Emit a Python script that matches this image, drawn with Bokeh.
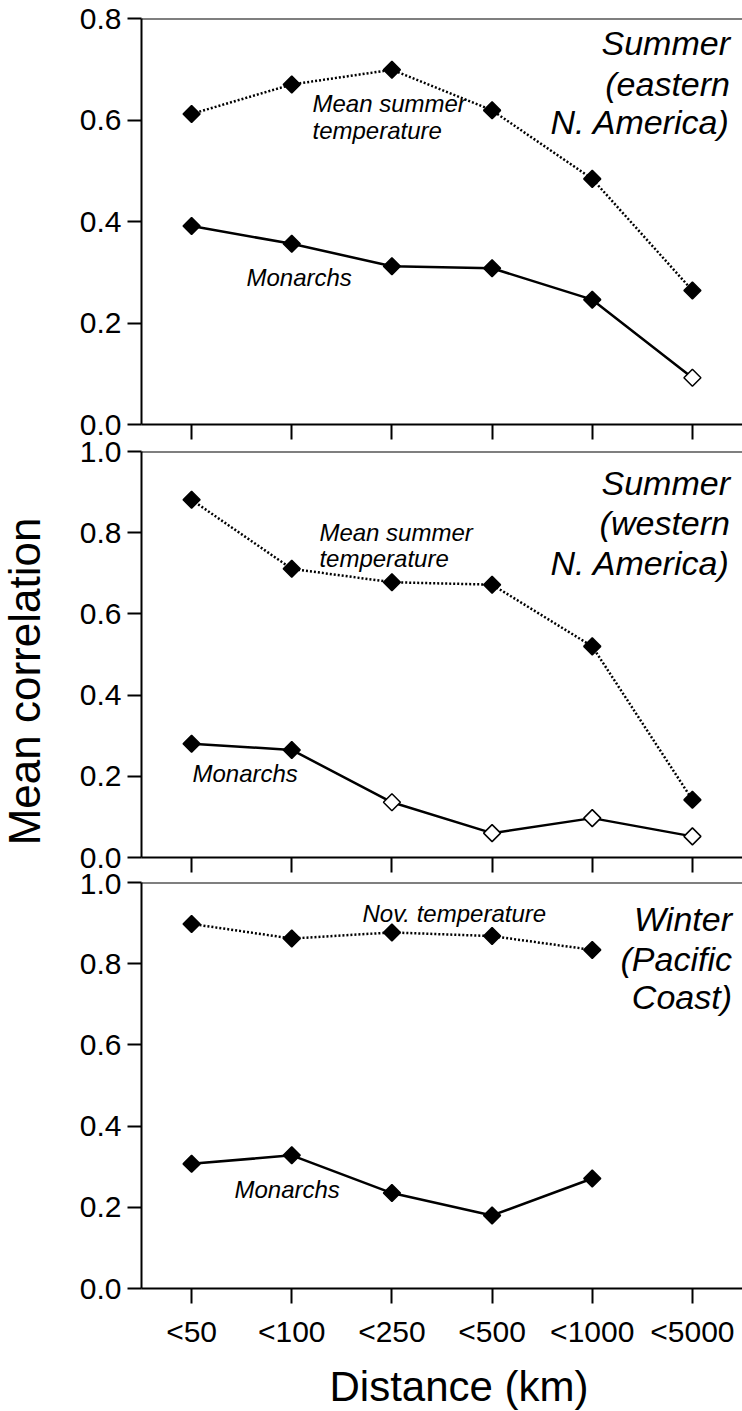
import numpy as np
from bokeh.plotting import figure
from bokeh.models import Range1d, FixedTicker, Label, Span, ColumnDataSource, NumeralTickFormatter
from bokeh.layouts import column, row
from bokeh.embed import file_html
from bokeh.resources import INLINE

# ---------------- data ----------------
categories = ["<50", "<100", "<250", "<500", "<1000", "<5000"]

east_temp = [0.612, 0.670, 0.699, 0.619, 0.484, 0.264]
east_temp_sig = [True, True, True, True, True, True]
east_mon = [0.391, 0.356, 0.312, 0.308, 0.246, 0.092]
east_mon_sig = [True, True, True, True, True, False]

west_temp = [0.881, 0.711, 0.678, 0.672, 0.520, 0.142]
west_temp_sig = [True, True, True, True, True, True]
west_mon = [0.280, 0.265, 0.136, 0.060, 0.097, 0.052]
west_mon_sig = [True, True, False, False, False, False]

winter_temp = [0.898, 0.862, 0.877, 0.868, 0.834]
winter_temp_sig = [True, True, True, True, True]
winter_mon = [0.307, 0.328, 0.235, 0.180, 0.271]
winter_mon_sig = [True, True, True, True, True]

y_ticks_east = [0.0, 0.2, 0.4, 0.6, 0.8]
y_ticks_other = [0.0, 0.2, 0.4, 0.6, 0.8, 1.0]

FONT = "Liberation Sans"
xpos = [i + 0.5 for i in range(len(categories))]
X_END = 6.0
LEFT_STRIP = 50
BORDER_LEFT = 91
FRAME_W = 601


def make_panel(ymax, yticks, border_top, border_bottom, show_xlabels):
    p = figure(frame_width=FRAME_W, frame_height=406,
               x_range=Range1d(0, X_END), y_range=Range1d(0, ymax),
               output_backend="svg", toolbar_location=None,
               min_border_left=BORDER_LEFT, min_border_right=0,
               min_border_top=border_top, min_border_bottom=border_bottom)
    p.outline_line_color = None
    p.xgrid.visible = False
    p.ygrid.visible = False
    p.background_fill_color = "white"
    p.border_fill_color = "white"

    xa = p.xaxis[0]
    xa.ticker = FixedTicker(ticks=xpos)
    xa.axis_line_width = 2
    xa.axis_line_color = "black"
    xa.major_tick_line_width = 2
    xa.major_tick_line_color = "black"
    xa.major_tick_in = 0
    xa.minor_tick_line_color = None
    if show_xlabels:
        xa.major_tick_out = 15
        xa.major_label_overrides = {x: c for x, c in zip(xpos, categories)}
        xa.major_label_text_font = FONT
        xa.major_label_text_font_size = "30px"
        xa.major_label_text_color = "black"
        xa.major_label_standoff = 11
    else:
        xa.major_tick_out = 15
        xa.major_label_overrides = {x: "" for x in xpos}
        xa.major_label_text_font_size = "1px"
        xa.major_label_standoff = 0

    ya = p.yaxis[0]
    ya.ticker = FixedTicker(ticks=yticks)
    ya.formatter = NumeralTickFormatter(format="0.0")
    ya.axis_line_width = 2
    ya.axis_line_color = "black"
    ya.major_tick_line_width = 2
    ya.major_tick_line_color = "black"
    ya.major_tick_in = 0
    ya.major_tick_out = 14
    ya.minor_tick_line_color = None
    ya.major_label_text_font = FONT
    ya.major_label_text_font_size = "30px"
    ya.major_label_text_color = "black"
    ya.major_label_standoff = 6

    p.add_layout(Span(location=ymax, dimension="width", line_color="black", line_width=2))
    return p


def add_series(p, values, sig, dashed):
    xs = xpos[:len(values)]
    src = ColumnDataSource(dict(x=xs, y=values,
                                fill=["black" if s else "white" for s in sig]))
    p.line("x", "y", source=src, line_color="black", line_width=2.5,
           line_dash="2 2" if dashed else "solid")
    p.scatter("x", "y", source=src, marker="square", angle=np.pi / 4, size=12,
              fill_color="fill", line_color="black", line_width=1.5)


def add_text(p, x, y, text, size, align="left", italic=True):
    p.add_layout(Label(x=x, y=y, text=text, text_font=FONT, text_font_size=size,
                       text_font_style="italic" if italic else "normal",
                       text_align=align, text_baseline="middle", text_color="black"))


def strip(w, h, border_left=0):
    s = figure(frame_width=w, frame_height=h, x_range=Range1d(0, w if border_left == 0 else X_END),
               y_range=Range1d(0, h), x_axis_location=None, y_axis_location=None,
               output_backend="svg", toolbar_location=None,
               min_border_left=border_left, min_border_right=0,
               min_border_top=0, min_border_bottom=0)
    s.outline_line_color = None
    s.xgrid.visible = False
    s.ygrid.visible = False
    s.background_fill_color = "white"
    s.border_fill_color = "white"
    return s


TITLE = "34px"
NOTE = "24px"

# Panel 1
p1 = make_panel(0.8, y_ticks_east, 18, 16, False)
add_series(p1, east_temp, east_temp_sig, True)
add_series(p1, east_mon, east_mon_sig, False)
add_text(p1, 5.875, 0.7527, "Summer", TITLE, "right")
add_text(p1, 5.875, 0.6719, "(eastern", TITLE, "right")
add_text(p1, 5.875, 0.5951, "N. America)", TITLE, "right")
add_text(p1, 1.707, 0.6325, "Mean summer", NOTE)
add_text(p1, 1.707, 0.5793, "temperature", NOTE)
add_text(p1, 1.048, 0.2897, "Monarchs", NOTE)

# Panel 2
p2 = make_panel(1.0, y_ticks_other, 11, 16, False)
add_series(p2, west_temp, west_temp_sig, True)
add_series(p2, west_mon, west_mon_sig, False)
add_text(p2, 5.875, 0.9212, "Summer", TITLE, "right")
add_text(p2, 5.875, 0.8227, "(western", TITLE, "right")
add_text(p2, 5.875, 0.7266, "N. America)", TITLE, "right")
add_text(p2, 1.776, 0.8005, "Mean summer", NOTE)
add_text(p2, 1.776, 0.7365, "temperature", NOTE)
add_text(p2, 0.509, 0.2069, "Monarchs", NOTE)

# Panel 3
p3 = make_panel(1.0, y_ticks_other, 9, 62, True)
add_series(p3, winter_temp, winter_temp_sig, True)
add_series(p3, winter_mon, winter_mon_sig, False)
add_text(p3, 5.895, 0.9113, "Winter", TITLE, "right")
add_text(p3, 5.895, 0.8128, "(Pacific", TITLE, "right")
add_text(p3, 5.895, 0.7192, "Coast)", TITLE, "right")
add_text(p3, 2.206, 0.9236, "Nov. temperature", NOTE)
add_text(p3, 0.928, 0.2438, "Monarchs", NOTE)

# x-axis title strip
bottom = strip(FRAME_W, 61, BORDER_LEFT)
bottom.add_layout(Label(x=3.17, y=25, text="Distance (km)", text_font=FONT,
                        text_font_size="42px", text_align="center",
                        text_baseline="middle", text_color="black"))

# y-axis title strip
left = strip(LEFT_STRIP, 1411)
left.add_layout(Label(x=24, y=1411 - 681, text="Mean correlation", text_font=FONT,
                      text_font_size="44px", angle=np.pi / 2, text_align="center",
                      text_baseline="middle", text_color="black"))

layout = row(left, column(p1, p2, p3, bottom, spacing=0), spacing=0)
open("out.html", "w").write(file_html(layout, INLINE))
